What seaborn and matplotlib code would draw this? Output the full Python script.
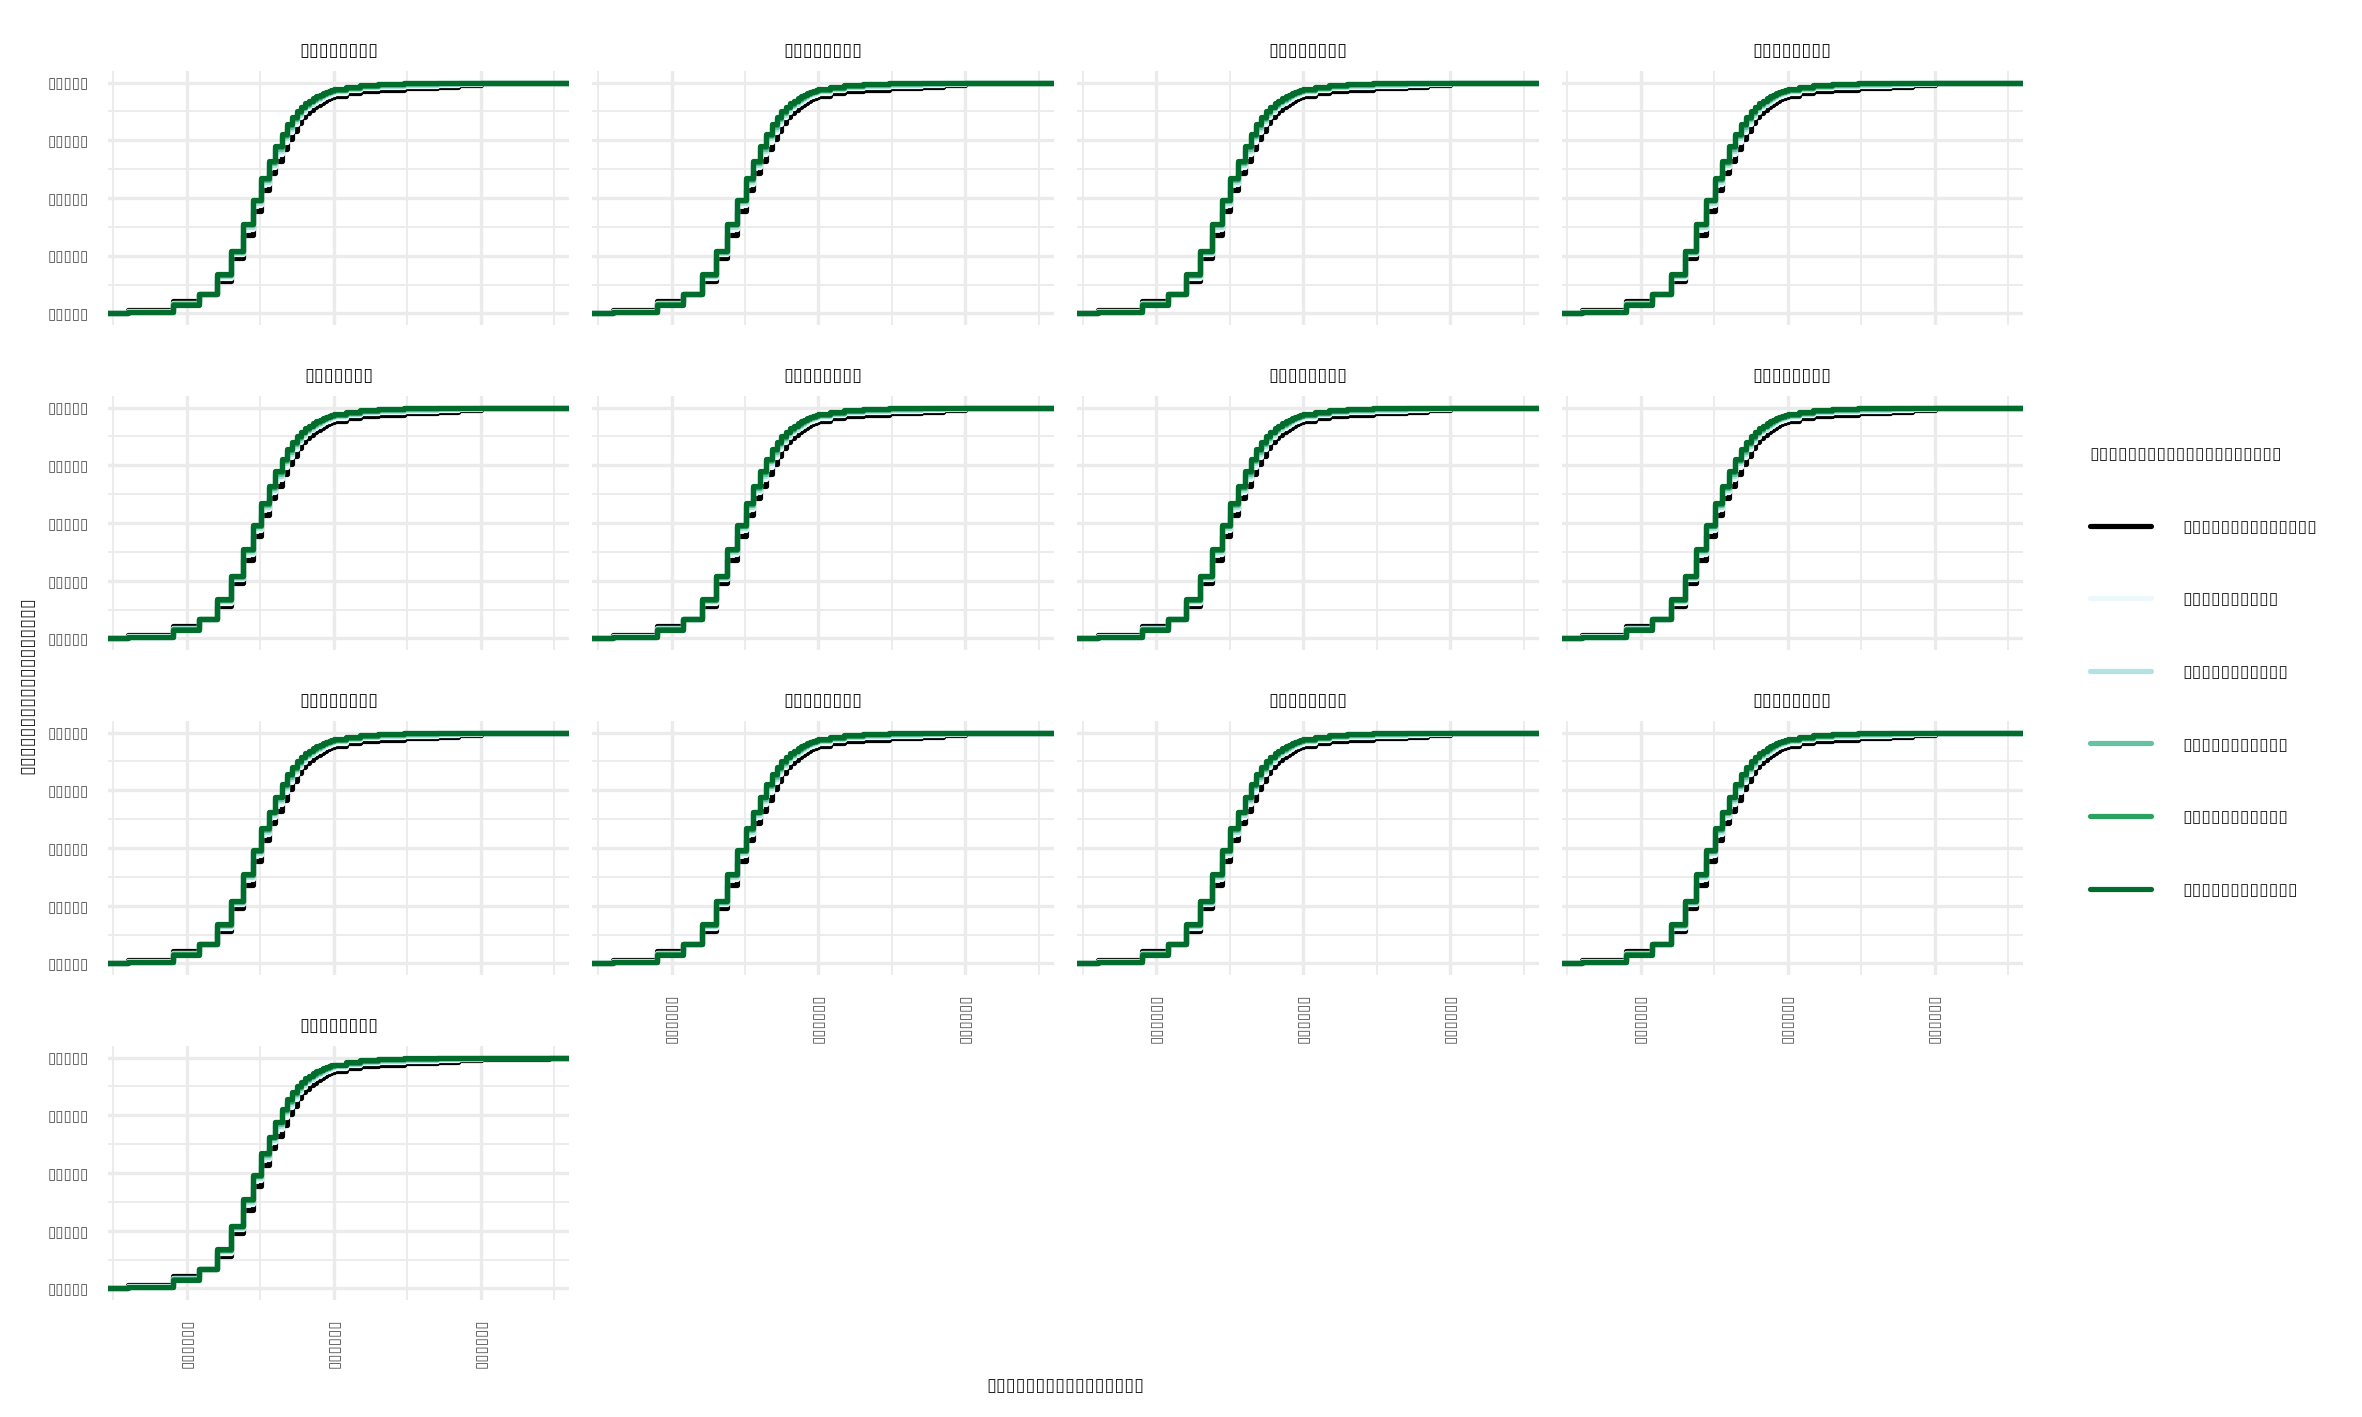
import matplotlib
matplotlib.use("Agg")
import matplotlib.pyplot as plt
from matplotlib.lines import Line2D
from matplotlib.ticker import NullFormatter
import pandas as pd
import seaborn as sns

# the source text renders as empty boxes, so the labels are kept as boxes
box = "\u25af"
panel_titles = [box * 8] * 4 + [box * 7] + [box * 8] * 8
y_tick_labels = [box * 5] * 5
x_tick_labels = [box * 6] * 3
x_title = box * 16
y_title = box * 18
legend_title = box * 20
legend_labels = [box * 14, box * 10, box * 11, box * 11, box * 11, box * 12]

# ECDF steps (log x); first and last points are the -Inf/+Inf padding
x_steps = [1, 4, 8, 12, 16, 20, 24, 28, 32, 36, 40, 44, 48, 52, 56, 60, 64, 68,
           72, 76, 80, 84, 88, 92, 96, 100, 120, 150, 200, 300, 500, 700, 1000,
           2900, 10000]
y_ticks = [0, 0.25, 0.5, 0.75, 1.0]
x_ticks = [10, 100, 1000]

ecdf_base = [0, 0.015, 0.054, 0.083, 0.140, 0.240, 0.340, 0.445, 0.535, 0.610,
             0.660, 0.710, 0.755, 0.792, 0.825, 0.850, 0.866, 0.880, 0.892, 0.902,
             0.912, 0.920, 0.927, 0.933, 0.938, 0.943, 0.953, 0.962, 0.968, 0.975,
             0.982, 0.990, 0.996, 1.0, 1.0]
ecdf_s1 = [0, 0.010, 0.046, 0.085, 0.155, 0.256, 0.364, 0.468, 0.560, 0.634,
           0.692, 0.744, 0.787, 0.821, 0.851, 0.872, 0.888, 0.901, 0.912, 0.921,
           0.930, 0.937, 0.943, 0.948, 0.952, 0.956, 0.966, 0.975, 0.980, 0.986,
           0.990, 0.994, 0.998, 1.0, 1.0]
ecdf_s2 = [0, 0.008, 0.043, 0.085, 0.161, 0.262, 0.374, 0.478, 0.571, 0.644,
           0.704, 0.758, 0.800, 0.833, 0.861, 0.881, 0.897, 0.909, 0.920, 0.929,
           0.937, 0.944, 0.949, 0.954, 0.958, 0.962, 0.972, 0.980, 0.986, 0.990,
           0.994, 0.996, 0.999, 1.0, 1.0]
ecdf_s3 = [0, 0.006, 0.040, 0.086, 0.166, 0.267, 0.381, 0.485, 0.578, 0.651,
           0.714, 0.768, 0.809, 0.841, 0.869, 0.888, 0.903, 0.915, 0.926, 0.935,
           0.943, 0.949, 0.954, 0.958, 0.962, 0.966, 0.976, 0.984, 0.990, 0.994,
           0.997, 0.998, 0.999, 1.0, 1.0]
ecdf_s4 = [0, 0.005, 0.039, 0.086, 0.168, 0.270, 0.385, 0.489, 0.582, 0.655,
           0.719, 0.773, 0.814, 0.846, 0.873, 0.892, 0.907, 0.919, 0.929, 0.938,
           0.946, 0.952, 0.957, 0.961, 0.965, 0.968, 0.978, 0.986, 0.992, 0.996,
           0.998, 0.999, 0.9995, 1.0, 1.0]
ecdf_s5 = [0, 0.005, 0.038, 0.086, 0.170, 0.272, 0.388, 0.492, 0.586, 0.658,
           0.723, 0.778, 0.819, 0.850, 0.877, 0.895, 0.910, 0.922, 0.932, 0.941,
           0.948, 0.954, 0.959, 0.963, 0.967, 0.970, 0.980, 0.988, 0.993, 0.997,
           0.999, 0.9995, 0.9998, 1.0, 1.0]

series_keys = ["base", "s1", "s2", "s3", "s4", "s5"]
series_values = [ecdf_base, ecdf_s1, ecdf_s2, ecdf_s3, ecdf_s4, ecdf_s5]
series_colors = ["#000000", "#edf8fb", "#b2e2e2", "#66c2a4", "#2ca25f", "#006d2c"]

rows = []
for p in range(len(panel_titles)):
    for key, ys in zip(series_keys, series_values):
        for xv, yv in zip(x_steps, ys):
            rows.append((p, key, xv, yv))
df = pd.DataFrame(rows, columns=["panel", "series", "x", "y"])

sns.set_theme(style="whitegrid", rc={
    "axes.edgecolor": "white",
    "axes.linewidth": 0,
    "grid.color": "#EBEBEB",
    "xtick.major.size": 0,
    "ytick.major.size": 0,
    "xtick.minor.size": 0,
    "ytick.minor.size": 0,
})
plt.rcParams["font.family"] = ["DejaVu Sans"]

g = sns.FacetGrid(df, col="panel", col_wrap=4, hue="series",
                  hue_order=series_keys, palette=series_colors,
                  height=2, aspect=1.8, despine=False)
g.map_dataframe(sns.lineplot, x="x", y="y", drawstyle="steps-post",
                linewidth=2.5, estimator=None, sort=False)

fig = g.figure
fig.set_size_inches(2362 / 150, 1417 / 150)
fig.subplots_adjust(left=0.0457, right=0.8565, top=0.9499, bottom=0.0826,
                    wspace=0.05, hspace=0.28)

axes = g.axes.flat
axes[0].set_xscale("log")
axes[0].set_xlim(2.9, 4000)
axes[0].set_ylim(-0.05, 1.05)
axes[0].set_xticks(x_ticks, labels=x_tick_labels)
axes[0].set_xticks([10 ** 0.5, 10 ** 1.5, 10 ** 2.5, 10 ** 3.5], minor=True)
axes[0].set_yticks(y_ticks, labels=y_tick_labels)
axes[0].set_yticks([0.125, 0.375, 0.625, 0.875], minor=True)

n = len(panel_titles)
for i, ax in enumerate(axes):
    ax.xaxis.set_minor_formatter(NullFormatter())
    ax.yaxis.set_minor_formatter(NullFormatter())
    ax.grid(which="major", color="#EBEBEB", linewidth=1.6)
    ax.grid(which="minor", color="#EBEBEB", linewidth=0.9)
    ax.set_axisbelow(True)
    ax.set_xlabel("")
    ax.set_ylabel("")
    ax.set_title(panel_titles[i], fontsize=8.6, color="#1A1A1A", pad=7)
    bottom = i + 4 >= n
    left = i % 4 == 0
    ax.tick_params(axis="x", which="both", labelbottom=bottom, pad=9,
                   labelsize=7.2, labelcolor="#4D4D4D", labelrotation=90)
    ax.tick_params(axis="y", which="both", labelleft=left, pad=9,
                   labelsize=7.2, labelcolor="#4D4D4D")
    for lab in ax.get_xticklabels():
        lab.set_verticalalignment("top")

fig.text(0.451, 0.0219, x_title, ha="center", va="center", fontsize=8.6)
fig.text(0.0114, 0.5166, y_title, ha="center", va="center", rotation=90,
         fontsize=8.6)

handles = [Line2D([], [], color=c, linewidth=2.5) for c in series_colors]
fig.legend(handles, legend_labels, title=legend_title, loc="upper left",
           bbox_to_anchor=(0.881, 0.692), frameon=False, fontsize=8.4,
           title_fontsize=8.4, alignment="left", borderpad=0,
           handlelength=3.5, handletextpad=1.8, labelspacing=3.12)

fig.savefig("out.png", dpi=150)
